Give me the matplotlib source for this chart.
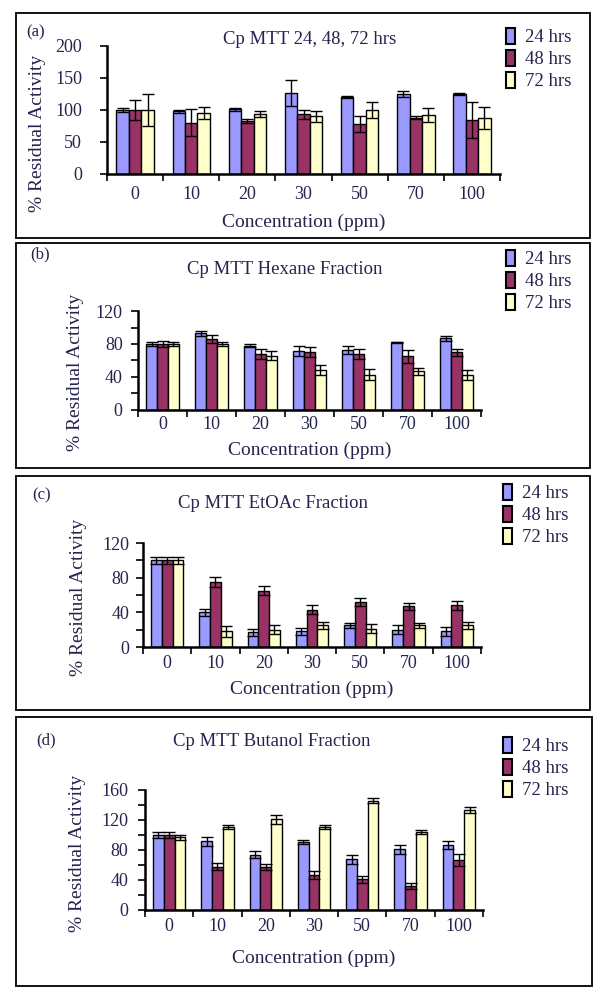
import numpy as np
import matplotlib
matplotlib.use('Agg')
import matplotlib.pyplot as plt
from matplotlib.patches import Rectangle, Patch

plt.rcParams['font.family'] = ['Liberation Serif', 'DejaVu Serif']

concentrations = ['0', '10', '20', '30', '50', '70', '100']
series_names = ['24 hrs', '48 hrs', '72 hrs']
colors = ['#9999ff', '#993366', '#ffffcc']
text_color = '#24244e'

# panel (a) Cp MTT 24, 48, 72 hrs
a_24 = [100, 98, 101, 127, 120, 125, 125]
a_48 = [100, 80, 83, 93, 78, 88, 85]
a_72 = [100, 95, 94, 90, 100, 92, 87]
a_24_err = [3, 2, 2, 20, 2, 5, 2]
a_48_err = [15, 21, 3, 7, 12, 2, 28]
a_72_err = [25, 9, 5, 9, 12, 11, 17]

# panel (b) Hexane fraction
b_24 = [80, 93, 78, 72, 73, 82, 87]
b_48 = [80, 86, 68, 70, 68, 65, 70]
b_72 = [80, 80, 66, 48, 43, 47, 42]
b_24_err = [3, 3, 2, 6, 5, 1, 3]
b_48_err = [4, 5, 6, 6, 6, 8, 4]
b_72_err = [3, 3, 5, 6, 7, 4, 6]

# panel (c) EtOAc fraction
c_24 = [100, 40, 17, 18, 25, 20, 18]
c_48 = [100, 75, 65, 43, 52, 47, 48]
c_72 = [100, 18, 20, 25, 21, 25, 25]
c_24_err = [4, 4, 4, 4, 3, 5, 5]
c_48_err = [4, 6, 5, 5, 5, 4, 5]
c_72_err = [4, 6, 5, 4, 5, 3, 4]

# panel (d) Butanol fraction
d_24 = [100, 92, 74, 91, 68, 81, 87]
d_48 = [100, 58, 58, 47, 41, 32, 67]
d_72 = [97, 111, 121, 111, 146, 104, 134]
d_24_err = [4, 6, 5, 3, 6, 6, 5]
d_48_err = [4, 5, 4, 5, 5, 4, 8]
d_72_err = [3, 3, 6, 3, 3, 3, 4]

panels = [
    dict(tag='(a)', title='Cp MTT 24, 48, 72 hrs',
         values=[a_24, a_48, a_72], errors=[a_24_err, a_48_err, a_72_err],
         ymax=200, major=50, minor=None, ypad=13, xpad=9,
         box=(16, 13, 590, 238), ax=(107, 46, 500, 174),
         tag_xy=(26, 32), title_xy=(310, 40), leg_xy=(506, 28),
         xlab_y=222, ylab_xy=(38, 133)),
    dict(tag='(b)', title='Cp MTT Hexane Fraction',
         values=[b_24, b_48, b_72], errors=[b_24_err, b_48_err, b_72_err],
         ymax=120, major=40, minor=20, ypad=6, xpad=4,
         box=(16, 243, 590, 468), ax=(138, 311, 481, 410),
         tag_xy=(30, 254), title_xy=(285, 269), leg_xy=(506, 250),
         xlab_y=450, ylab_xy=(75, 372)),
    dict(tag='(c)', title='Cp MTT EtOAc Fraction',
         values=[c_24, c_48, c_72], errors=[c_24_err, c_48_err, c_72_err],
         ymax=120, major=40, minor=20, ypad=5, xpad=6,
         box=(16, 476, 590, 710), ax=(143, 543, 481, 647),
         tag_xy=(32, 495), title_xy=(273, 503), leg_xy=(503, 484),
         xlab_y=689, ylab_xy=(79, 597)),
    dict(tag='(d)', title='Cp MTT Butanol Fraction',
         values=[d_24, d_48, d_72], errors=[d_24_err, d_48_err, d_72_err],
         ymax=160, major=40, minor=20, ypad=7, xpad=6,
         box=(16, 717, 592, 986), ax=(145, 790, 483, 910),
         tag_xy=(36, 740), title_xy=(272, 741), leg_xy=(503, 737),
         xlab_y=958, ylab_xy=(77, 853)),
]

W, H = 600, 1000
fig = plt.figure(figsize=(6, 10), dpi=100)

def fx(px):
    return px / W

def fy(py):
    return 1 - py / H

x = np.arange(len(concentrations))
bw = 1 / 4.5

for p in panels:
    x0, y0, x1, y1 = p['box']
    fig.add_artist(Rectangle((fx(x0), fy(y1)), fx(x1 - x0), (y1 - y0) / H,
                             transform=fig.transFigure, fill=False,
                             edgecolor='black', linewidth=1.3))
    l, t, r, b = p['ax']
    ax = fig.add_axes([fx(l), fy(b), fx(r - l), (b - t) / H])
    for i, (vals, errs) in enumerate(zip(p['values'], p['errors'])):
        ax.bar(x + (i - 1) * bw, vals, bw, yerr=errs, color=colors[i],
               edgecolor='black', linewidth=1.0, label=series_names[i],
               error_kw=dict(ecolor='black', elinewidth=1.0, capsize=4,
                             capthick=1.0))
    ax.set_xlim(-0.5, len(concentrations) - 0.5)
    ax.set_ylim(0, p['ymax'])
    for s in ['top', 'right']:
        ax.spines[s].set_visible(False)
    for s in ['left', 'bottom']:
        ax.spines[s].set_linewidth(1.8)
    ax.set_yticks(np.arange(0, p['ymax'] + 1, p['major']))
    if p['minor']:
        ax.set_yticks(np.arange(0, p['ymax'] + 1, p['minor']), minor=True)
    ax.set_xticks(x)
    ax.set_xticklabels(concentrations)
    ax.set_xticks(np.arange(-0.5, len(concentrations)), minor=True)
    ax.tick_params(axis='x', which='major', length=0, pad=p['xpad'],
                   labelsize=13, labelcolor=text_color)
    ax.tick_params(axis='x', which='minor', length=5, width=1.2,
                   direction='out')
    ax.tick_params(axis='y', which='both', length=5, width=1.2,
                   direction='out', labelsize=13, labelcolor=text_color,
                   pad=p['ypad'])
    ax.patch.set_alpha(0)

    fig.text(fx(p['tag_xy'][0]), fy(p['tag_xy'][1]), p['tag'], fontsize=12,
             color=text_color, va='center', ha='left')
    fig.text(fx(p['title_xy'][0]), fy(p['title_xy'][1]), p['title'],
             fontsize=13.5, color=text_color, va='center', ha='center')
    fig.text(fx((l + r) / 2), fy(p['xlab_y']), 'Concentration (ppm)',
             fontsize=14, color=text_color, va='center', ha='center')
    fig.text(fx(p['ylab_xy'][0]), fy(p['ylab_xy'][1]), '% Residual Activity',
             fontsize=14, color=text_color, va='center', ha='center',
             rotation=90)
    handles = [Patch(facecolor=c, edgecolor='black', linewidth=1.5)
               for c in colors]
    fig.legend(handles, series_names, loc='upper left',
               bbox_to_anchor=(fx(p['leg_xy'][0]), fy(p['leg_xy'][1])),
               frameon=False, fontsize=13.5, handlelength=0.5,
               handleheight=0.9, handletextpad=0.5, labelspacing=0.2,
               labelcolor=text_color, borderaxespad=0, borderpad=0)

fig.savefig('out.png', dpi=100)
